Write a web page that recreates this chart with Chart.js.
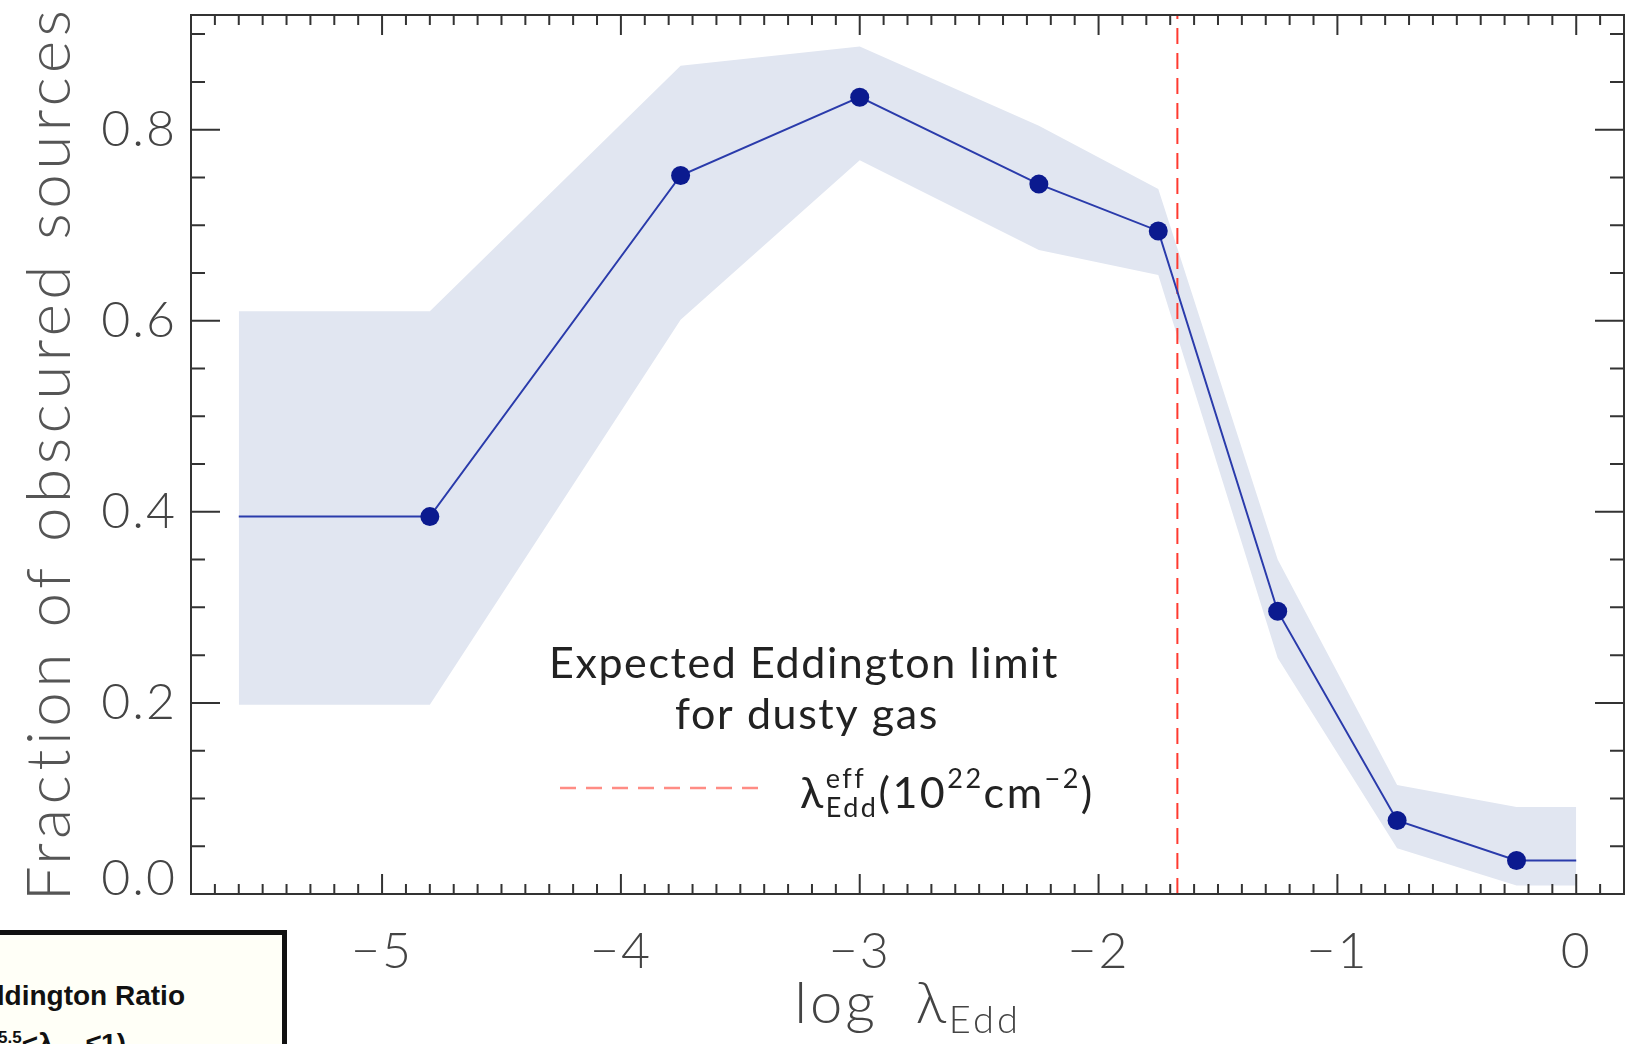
<!DOCTYPE html>
<html>
<head>
<meta charset="utf-8">
<title>Fraction of obscured sources vs Eddington ratio</title>
<script src="https://cdn.jsdelivr.net/npm/chart.js@4.4.1/dist/chart.umd.min.js"></script>
<style>
  html, body { margin: 0; padding: 0; background: #fff; overflow: hidden; }
  #wrap { position: relative; width: 1640px; height: 1044px; }
  #inset {
    position: absolute; left: -30px; top: 930px; width: 307px; height: 140px;
    border: 5px solid #111; background: #fffff7;
  }
  .inset-line {
    position: absolute; white-space: nowrap; color: #111;
    font-family: "Liberation Sans", Arial, sans-serif; font-weight: bold; font-size: 28px; line-height: 28px;
  }
  .inset-line sup, .inset-line sub { font-size: 17px; line-height: 0; }
</style>
</head>
<body>
<div id="wrap">
  <canvas id="chart" width="1640" height="1044"></canvas>
  <div id="inset"></div>
  <div class="inset-line" style="right:1455px; top:982px;">Eddington Ratio</div>
  <div class="inset-line" style="right:1514px; top:1030px;">(10<sup>-5.5</sup>&lt;λ<sub>Edd</sub>≤1)</div>
</div>
<script>
/* ---- data ---- */
const binCenters   = [-4.8, -3.75, -3.0, -2.25, -1.75, -1.25, -0.75, -0.25];
const obscuredFrac = [0.395, 0.752, 0.834, 0.743, 0.694, 0.296, 0.077, 0.035];
const lineEdges    = [-5.6, 0.0];   // first / last bin extended flat to these
const bandX        = [-5.6, -4.8, -3.75, -3.0, -2.25, -1.75, -1.25, -0.75, -0.25, 0.0];
const bandUpper    = [0.610, 0.610, 0.867, 0.887, 0.804, 0.738, 0.350, 0.114, 0.091, 0.091];
const bandLower    = [0.198, 0.198, 0.601, 0.768, 0.674, 0.648, 0.247, 0.048, 0.009, 0.009];
const eddLimitX    = -1.67;         // lambda_Edd^eff(1e22 cm^-2)
const xTickValues  = [-5, -4, -3, -2, -1, 0];
const yTickValues  = [0.0, 0.2, 0.4, 0.6, 0.8];

const FONT = 'Lato, "DejaVu Sans", sans-serif';
const TICK_FONT = `300 50px ${FONT}`;

const linePts = [{ x: lineEdges[0], y: obscuredFrac[0] }]
  .concat(binCenters.map((x, i) => ({ x, y: obscuredFrac[i] })))
  .concat([{ x: lineEdges[1], y: obscuredFrac[obscuredFrac.length - 1] }]);
const lineRadius = linePts.map((p, i) => (i === 0 || i === linePts.length - 1) ? 0 : 9.5);

/* ---- wider Hershey-like spacing for the tick labels ---- */
const spacing = {
  id: 'spacing',
  beforeDraw(chart) { chart.ctx.letterSpacing = '2px'; },
  afterDraw(chart) { chart.ctx.letterSpacing = '0px'; },
};

/* ---- IDL-style frame: box + inward ticks on all four sides ---- */
const idlFrame = {
  id: 'idlFrame',
  afterDatasetsDraw(chart) {
    const { ctx, chartArea: a, scales: { x, y } } = chart;
    ctx.save();
    ctx.strokeStyle = '#333';
    ctx.lineWidth = 2;
    ctx.strokeRect(a.left, a.top, a.right - a.left, a.bottom - a.top);

    ctx.beginPath();
    for (let i = Math.ceil(x.min * 10 - 1e-6); i <= Math.floor(x.max * 10 + 1e-6); i++) {
      const px = x.getPixelForValue(i / 10);
      const len = (i % 10 === 0) ? 20 : 10;
      ctx.moveTo(px, a.bottom); ctx.lineTo(px, a.bottom - len);
      ctx.moveTo(px, a.top); ctx.lineTo(px, a.top + len);
    }
    for (let j = Math.ceil(y.min * 20 - 1e-6); j <= Math.floor(y.max * 20 + 1e-6); j++) {
      const py = y.getPixelForValue(j / 20);
      const len = (j % 4 === 0) ? 29 : 14;
      ctx.moveTo(a.left, py); ctx.lineTo(a.left + len, py);
      ctx.moveTo(a.right, py); ctx.lineTo(a.right - len, py);
    }
    ctx.stroke();

    // IDL lifts the bottom y label so it sits on the axis instead of centring on it
    ctx.fillStyle = '#444';
    ctx.font = TICK_FONT;
    ctx.textAlign = 'right';
    ctx.textBaseline = 'alphabetic';
    ctx.fillText(yTickValues[0].toFixed(1), a.left - 14, y.getPixelForValue(yTickValues[0]) + 1);
    ctx.restore();
  }
};

/* ---- axis titles (with subscript) + in-plot legend ---- */
const annotations = {
  id: 'annotations',
  afterDraw(chart) {
    const { ctx, chartArea: a } = chart;
    ctx.save();

    // y axis title, rotated
    ctx.save();
    ctx.translate(50, (a.top + a.bottom) / 2 + 1);
    ctx.rotate(-Math.PI / 2);
    ctx.textAlign = 'center';
    ctx.textBaseline = 'middle';
    ctx.letterSpacing = '4.5px';
    ctx.fillStyle = '#555';
    ctx.font = `300 62px ${FONT}`;
    ctx.fillText('Fraction of obscured sources', 2, 0);
    ctx.restore();

    ctx.textBaseline = 'alphabetic';
    ctx.letterSpacing = '3px';

    // x axis title: log λ_Edd, centred under the plot
    const big = `300 58px ${FONT}`, sub = `300 38px ${FONT}`;
    ctx.font = big;
    const wMain = ctx.measureText('log  λ').width;
    ctx.font = sub;
    const wSub = ctx.measureText('Edd').width;
    const tx = (a.left + a.right) / 2 - (wMain + wSub) / 2;
    ctx.fillStyle = '#444';
    ctx.font = big;
    ctx.fillText('log  λ', tx, 1023);
    ctx.font = sub;
    ctx.fillText('Edd', tx + wMain, 1033);

    // legend header
    ctx.letterSpacing = '1.6px';
    ctx.fillStyle = '#222';
    ctx.textAlign = 'center';
    ctx.font = `400 43px ${FONT}`;
    ctx.fillText('Expected Eddington limit', 804, 678);
    ctx.fillText('for dusty gas', 807, 729);

    // legend sample line
    ctx.strokeStyle = '#ff8c84';
    ctx.lineWidth = 2.5;
    ctx.setLineDash([16, 10]);
    ctx.beginPath();
    ctx.moveTo(560, 788); ctx.lineTo(760, 788);
    ctx.stroke();
    ctx.setLineDash([]);

    // λ^eff_Edd(10^22 cm^-2)
    ctx.textAlign = 'left';
    ctx.letterSpacing = '2.5px';
    const f = `400 43px ${FONT}`, s = `400 27px ${FONT}`;
    let cx = 800; const base = 808;
    const put = (txt, font, dy) => { ctx.font = font; ctx.fillText(txt, cx, base + dy); return ctx.measureText(txt).width; };
    const wl = put('λ', f, 0);
    ctx.font = s;
    const wEff = ctx.measureText('eff').width, wEdd = ctx.measureText('Edd').width;
    ctx.fillText('eff', cx + wl, base - 20);
    ctx.fillText('Edd', cx + wl, base + 9);
    cx += wl + Math.max(wEff, wEdd);
    cx += put('(10', f, 0);
    cx += put('22', s, -20);
    cx += put('cm', f, 0);
    cx += put('−2', s, -20);
    put(')', f, 0);
    ctx.restore();
  }
};

new Chart(document.getElementById('chart'), {
  type: 'line',
  data: {
    datasets: [
      {
        label: 'band lower',
        data: bandX.map((x, i) => ({ x, y: bandLower[i] })),
        borderWidth: 0, pointRadius: 0, fill: false, order: 4,
      },
      {
        label: 'band upper',
        data: bandX.map((x, i) => ({ x, y: bandUpper[i] })),
        borderWidth: 0, pointRadius: 0,
        fill: '-1', backgroundColor: 'rgb(225,230,241)', order: 3,
      },
      {
        label: 'Eddington limit',
        data: [{ x: eddLimitX, y: 0 }, { x: eddLimitX, y: 0.92 }],
        borderColor: '#ff3a30', borderWidth: 2, borderDash: [16, 9],
        pointRadius: 0, fill: false, order: 2,
      },
      {
        label: 'Fraction of obscured sources',
        data: linePts,
        borderColor: '#2a3bab', borderWidth: 2,
        pointRadius: lineRadius, pointBackgroundColor: '#0b1a8f', pointBorderWidth: 0,
        fill: false, order: 1,
      },
    ],
  },
  options: {
    responsive: false, animation: false,
    layout: { padding: { top: 15, right: 16, left: 0, bottom: 0 } },
    plugins: { legend: { display: false }, tooltip: { enabled: false } },
    elements: { line: { tension: 0 } },
    scales: {
      x: {
        type: 'linear', min: -5.8, max: 0.2,
        afterBuildTicks: (s) => { s.ticks = xTickValues.map((v) => ({ value: v })); },
        afterFit: (s) => { s.height = 150; s.paddingLeft = 0; s.paddingRight = 0; },
        grid: { display: false, drawTicks: false }, border: { display: false },
        ticks: {
          padding: 28, color: '#444', maxRotation: 0, autoSkip: false,
          font: { family: FONT, size: 50, weight: 300 },
          callback: (v) => (v < 0 ? '\u2212' + Math.abs(v) : String(v)),
        },
      },
      y: {
        type: 'linear', min: 0, max: 0.92,
        afterBuildTicks: (s) => { s.ticks = yTickValues.map((v) => ({ value: v })); },
        afterFit: (s) => { s.width = 191; s.paddingTop = 0; s.paddingBottom = 0; },
        grid: { display: false, drawTicks: false }, border: { display: false },
        ticks: {
          padding: 14, color: '#444',
          font: { family: FONT, size: 50, weight: 300 },
          // the bottom label is drawn by idlFrame, lifted onto the axis
          callback: (v) => (v === yTickValues[0] ? '' : v.toFixed(1)),
        },
      },
    },
  },
  plugins: [spacing, idlFrame, annotations],
});
</script>
</body>
</html>
